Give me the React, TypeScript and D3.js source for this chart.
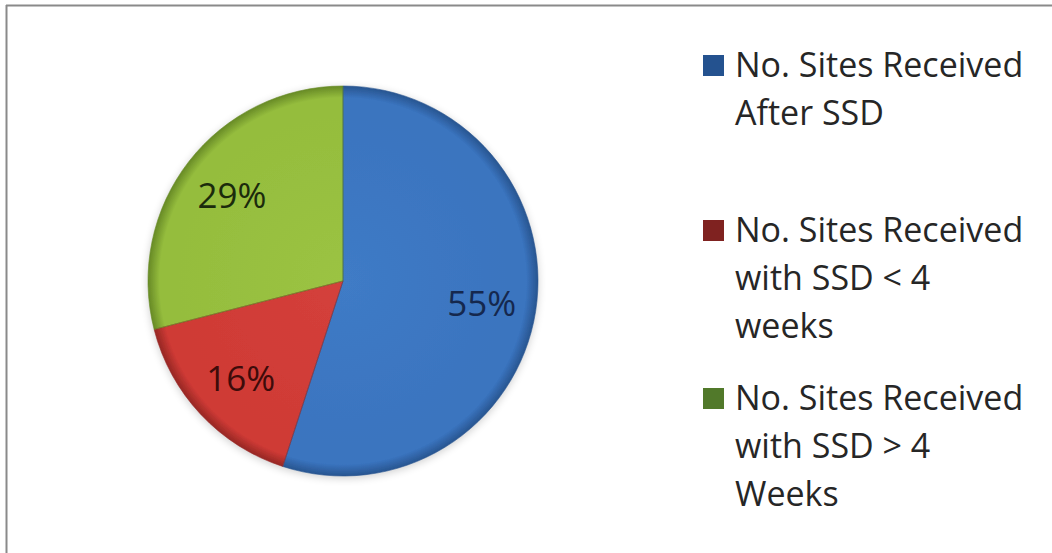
import React from "react";
import * as d3 from "d3";

const categories = [
  "No. Sites Received After SSD",
  "No. Sites Received with SSD < 4 weeks",
  "No. Sites Received with SSD > 4 Weeks",
];
const values = [55, 16, 29];
const percentLabels = ["55%", "16%", "29%"];
const legendLines = [
  ["No. Sites Received", "After SSD"],
  ["No. Sites Received", "with SSD < 4", "weeks"],
  ["No. Sites Received", "with SSD > 4", "Weeks"],
];

const W = 1052;
const H = 553;
const cx = 343;
const cy = 281;
const R = 195;

const sliceBase = ["#3A74BF", "#CF3A35", "#95BD3D"];
const sliceEdge = ["#285590", "#962724", "#678A26"];
const sliceLight = ["#3F7BC6", "#D4403B", "#9BC343"];
const labelColor = ["#15284E", "#3E0B0A", "#1B2B0C"];
const legendColor = ["#24528F", "#7F2220", "#51792A"];

export default function App() {
  const pie = d3
    .pie<number>()
    .sort(null)
    .value((d) => d)
    .startAngle(0)
    .endAngle(2 * Math.PI);
  const arcs = pie(values);
  const arc = d3.arc<d3.PieArcDatum<number>>().innerRadius(0).outerRadius(R);
  const labelArc = d3
    .arc<d3.PieArcDatum<number>>()
    .innerRadius(R * 0.72)
    .outerRadius(R * 0.72);

  const legendX = 735;
  const swatchX = 703;
  const lineH = 48;
  const firstBaselines = [77, 242, 410];

  return (
    <div style={{ position: "absolute", left: 0, top: 0 }}>
      <svg width={W} height={H} style={{ display: "block", background: "#fff" }}>
        <defs>
          {sliceBase.map((c, i) => (
            <radialGradient
              key={i}
              id={`g${i}`}
              gradientUnits="userSpaceOnUse"
              cx={0}
              cy={0}
              r={R}
            >
              <stop offset="0%" stopColor={sliceLight[i]} />
              <stop offset="85%" stopColor={c} />
              <stop offset="94%" stopColor={c} />
              <stop offset="100%" stopColor={sliceEdge[i]} />
            </radialGradient>
          ))}
          <filter id="shadow" x="-20%" y="-20%" width="140%" height="140%">
            <feGaussianBlur in="SourceAlpha" stdDeviation="4" />
            <feOffset dx="0" dy="2" result="b" />
            <feComponentTransfer>
              <feFuncA type="linear" slope="0.2" />
            </feComponentTransfer>
            <feMerge>
              <feMergeNode />
              <feMergeNode in="SourceGraphic" />
            </feMerge>
          </filter>
        </defs>
        {/* frame */}
        <line x1={6} y1={5.5} x2={W} y2={5.5} stroke="#8a8a8a" strokeWidth={2} />
        <line x1={6.5} y1={5} x2={6.5} y2={H} stroke="#8a8a8a" strokeWidth={2} />

        <g transform={`translate(${cx},${cy})`} filter="url(#shadow)">
          {arcs.map((a, i) => (
            <path key={categories[i]} d={arc(a) || ""} fill={`url(#g${i})`} />
          ))}
        </g>
        <g transform={`translate(${cx},${cy})`}>
          {arcs.map((a, i) => (
            <path
              key={"e" + i}
              d={arc(a) || ""}
              fill="none"
              stroke={sliceEdge[i]}
              strokeOpacity={0.6}
              strokeWidth={1}
            />
          ))}
          {arcs.map((a, i) => {
            const [x, y] = labelArc.centroid(a);
            return (
              <text
                key={"l" + i}
                x={x}
                y={y}
                textAnchor="middle"
                dominantBaseline="central"
                fontFamily="'Open Sans', sans-serif"
                fontSize={35}
                fill={labelColor[i]}
              >
                {percentLabels[i]}
              </text>
            );
          })}
        </g>

        {legendLines.map((lines, i) => (
          <g key={"lg" + i}>
            <rect
              x={swatchX}
              y={firstBaselines[i] - 22}
              width={21}
              height={21}
              fill={legendColor[i]}
            />
            {lines.map((t, j) => (
              <text
                key={j}
                x={legendX}
                y={firstBaselines[i] + j * lineH}
                fontFamily="'Open Sans', sans-serif"
                fontSize={34}
                fill="#262626"
              >
                {t}
              </text>
            ))}
          </g>
        ))}
      </svg>
    </div>
  );
}
